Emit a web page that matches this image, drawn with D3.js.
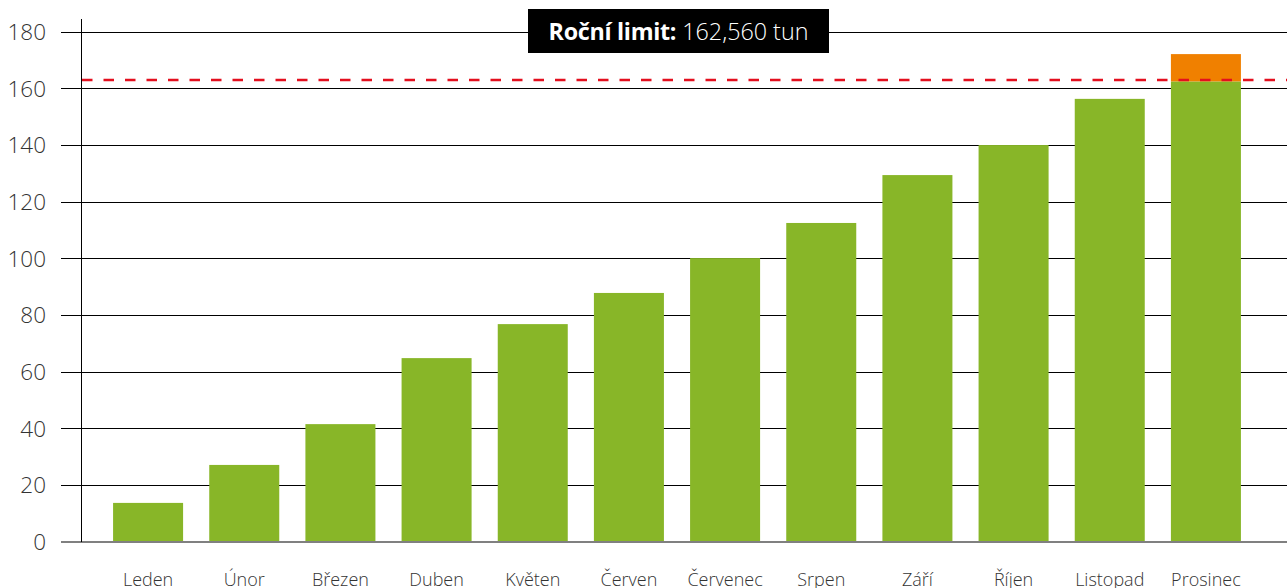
<!DOCTYPE html>
<html><head><meta charset="utf-8">
<script src="https://cdn.jsdelivr.net/npm/d3@7"></script>
<style>
html,body{margin:0;padding:0;background:#fff;overflow:hidden;}
svg{display:block;font-family:"Open Sans","Noto Sans",sans-serif;}
</style></head>
<body>
<svg id="c" width="1287" height="588"></svg>
<script>
const months = ["Leden","Únor","Březen","Duben","Květen","Červen","Červenec","Srpen","Září","Říjen","Listopad","Prosinec"];
const cumulative = [13.8, 27.2, 41.6, 64.9, 76.9, 87.9, 100.2, 112.6, 129.5, 140.1, 156.4, 172.2];
const annualLimit = 162.56;
const yTicks = [0,20,40,60,80,100,120,140,160,180];
const titleBold = "Roční limit:";
const titleRest = " 162,560 tun";

const svg = d3.select("#c");
const x = d3.scaleBand().domain(months).range([100,1254]).paddingInner(0.272).paddingOuter(0.136);
const y = d3.scaleLinear().domain([0,180]).range([542,32]);

// gridlines
svg.append("g").selectAll("line").data(yTicks.filter(d=>d>0)).join("line")
  .attr("x1",61).attr("x2",1287).attr("y1",d=>y(d)).attr("y2",d=>y(d))
  .attr("stroke","#000").attr("stroke-width",1).attr("shape-rendering","crispEdges");

// y tick labels
svg.append("g").selectAll("text").data(yTicks).join("text")
  .attr("x",46).attr("y",d=>y(d)).attr("dy","0.36em").attr("text-anchor","end")
  .attr("font-size",22.5).attr("font-weight",300).attr("fill","#333").text(d=>d);

// bars (green up to limit, orange above)
svg.append("g").selectAll("rect").data(months).join("rect")
  .attr("x",d=>x(d)).attr("width",x.bandwidth())
  .attr("y",(d,i)=>y(Math.min(cumulative[i],annualLimit)))
  .attr("height",(d,i)=>y(0)-y(Math.min(cumulative[i],annualLimit)))
  .attr("fill","#88b628");
svg.append("g").selectAll("rect").data(months.filter((d,i)=>cumulative[i]>annualLimit)).join("rect")
  .attr("x",d=>x(d)).attr("width",x.bandwidth())
  .attr("y",d=>y(cumulative[months.indexOf(d)]))
  .attr("height",d=>y(annualLimit)-y(cumulative[months.indexOf(d)]))
  .attr("fill","#f08000");

// zero line
svg.append("line").attr("x1",61).attr("x2",1287).attr("y1",y(0)).attr("y2",y(0))
  .attr("stroke","#808080").attr("stroke-width",2);
// y axis line
svg.append("line").attr("x1",81.5).attr("x2",81.5).attr("y1",19).attr("y2",y(0))
  .attr("stroke","#000").attr("stroke-width",1);

// limit dashed line
svg.append("line").attr("x1",82).attr("x2",1287).attr("y1",y(annualLimit)-1.5).attr("y2",y(annualLimit)-1.5)
  .attr("stroke","#e30f1e").attr("stroke-width",2.5).attr("stroke-dasharray","10.5,11");

// x labels
svg.append("g").selectAll("text").data(months).join("text")
  .attr("x",d=>x(d)+x.bandwidth()/2).attr("y",586).attr("text-anchor","middle")
  .attr("font-size",18).attr("font-weight",300).attr("fill","#333").text(d=>d);

// title box
svg.append("rect").attr("x",528).attr("y",9).attr("width",301).attr("height",44).attr("fill","#000");
const t = svg.append("text").attr("x",678.5).attr("y",40).attr("text-anchor","middle")
  .attr("font-size",23.3).attr("fill","#fff");
t.append("tspan").attr("font-weight",700).attr("letter-spacing",-0.3).text(titleBold);
t.append("tspan").attr("font-weight",300).text(titleRest);
</script>
</body></html>
